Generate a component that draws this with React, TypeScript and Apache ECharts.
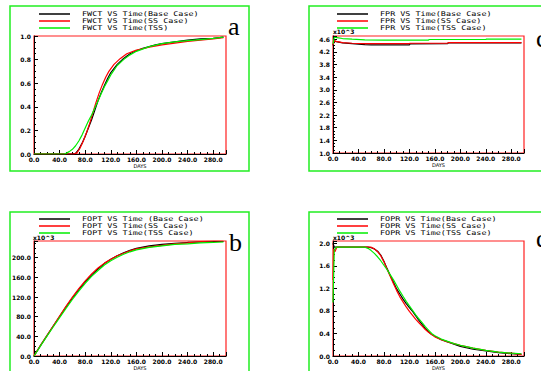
import React, { useEffect, useRef } from "react";
import * as echarts from "echarts";

type P = [number, number][];

// Panel a: FWCT vs Time
const fwctBase: P = [[0,0],[60,0],[65,0.005],[70,0.04],[75,0.09],[80,0.15],[85,0.22],[90,0.29],[95,0.37],[100,0.45],[105,0.52],[110,0.58],[115,0.64],[120,0.69],[130,0.76],[140,0.81],[150,0.85],[160,0.875],[170,0.895],[180,0.91],[190,0.925],[200,0.935],[220,0.95],[240,0.965],[260,0.975],[280,0.98],[296,0.99]];
const fwctSS: P = [[0,0],[62,0],[67,0.01],[72,0.05],[77,0.11],[82,0.18],[87,0.26],[92,0.35],[97,0.44],[102,0.52],[107,0.59],[112,0.65],[117,0.70],[125,0.76],[135,0.81],[145,0.85],[160,0.88],[180,0.905],[200,0.925],[220,0.94],[240,0.955],[260,0.965],[280,0.975],[296,0.985]];
const fwctTSS: P = [[0,0],[48,0],[55,0.02],[60,0.04],[65,0.07],[70,0.11],[75,0.16],[80,0.22],[85,0.28],[90,0.33],[95,0.39],[100,0.45],[105,0.51],[110,0.57],[115,0.62],[120,0.67],[130,0.75],[140,0.80],[150,0.84],[160,0.87],[180,0.91],[200,0.935],[220,0.95],[240,0.96],[260,0.97],[280,0.98],[296,0.99]];

// Panel c: FPR vs Time (x10^3)
const fprBase: P = [[0,4.40],[2,4.55],[5,4.52],[15,4.48],[30,4.46],[50,4.43],[60,4.42],[120,4.42],[121,4.45],[180,4.46],[181,4.48],[296,4.48]];
const fprSS: P = [[0,4.42],[2,4.56],[5,4.53],[15,4.49],[30,4.47],[50,4.46],[120,4.46],[121,4.47],[180,4.47],[181,4.49],[296,4.49]];
const fprTSS: P = [[0,4.45],[2,4.66],[6,4.65],[15,4.62],[30,4.60],[50,4.58],[80,4.57],[150,4.57],[151,4.59],[240,4.59],[241,4.60],[296,4.60]];

// Panel b: FOPT vs Time (x10^3)
const foptBase: P = [[0,0],[10,21],[20,41],[30,61],[40,80],[50,100],[60,118],[70,135],[80,151],[90,165],[100,177],[110,188],[120,197],[130,204],[140,210],[150,215],[160,219],[180,224],[200,227],[220,229],[240,231],[260,232],[280,233],[296,233]];
const foptSS: P = [[0,0],[10,21],[20,41],[30,61],[40,81],[50,101],[60,120],[70,137],[80,153],[90,167],[100,179],[110,189],[120,197],[130,204],[140,209],[150,214],[160,218],[180,222],[200,225],[220,228],[240,230],[260,233],[280,234],[296,234]];
const foptTSS: P = [[0,0],[10,20],[20,40],[30,59],[40,78],[50,97],[60,115],[70,132],[80,148],[90,162],[100,174],[110,185],[120,194],[130,201],[140,207],[150,212],[160,216],[180,221],[200,224],[220,227],[240,228],[260,230],[280,231],[296,232]];

// Panel d: FOPR vs Time (x10^3)
const foprBase: P = [[0,2.0],[2,1.93],[6,1.93],[55,1.93],[60,1.92],[65,1.90],[70,1.86],[75,1.79],[80,1.68],[85,1.55],[90,1.43],[95,1.31],[100,1.19],[105,1.10],[110,1.01],[115,0.93],[120,0.86],[125,0.79],[130,0.71],[135,0.63],[140,0.56],[145,0.49],[150,0.43],[155,0.38],[160,0.35],[170,0.29],[180,0.25],[190,0.21],[200,0.17],[220,0.12],[240,0.09],[260,0.06],[280,0.04],[296,0.03]];
const foprSS: P = [[0,1.35],[1,1.9],[3,1.85],[6,1.93],[60,1.93],[65,1.90],[70,1.85],[75,1.78],[80,1.67],[85,1.54],[90,1.41],[95,1.28],[100,1.16],[105,1.05],[110,0.96],[115,0.87],[120,0.79],[125,0.72],[130,0.65],[135,0.59],[140,0.53],[145,0.47],[150,0.42],[155,0.38],[160,0.34],[170,0.29],[180,0.25],[190,0.22],[200,0.19],[220,0.14],[240,0.10],[260,0.07],[280,0.05],[296,0.03]];
const foprTSS: P = [[0,0.95],[2,1.88],[5,1.93],[50,1.93],[55,1.91],[60,1.87],[65,1.82],[70,1.76],[75,1.69],[80,1.61],[85,1.53],[90,1.44],[95,1.35],[100,1.25],[105,1.15],[110,1.06],[115,0.97],[120,0.89],[125,0.81],[130,0.73],[135,0.66],[140,0.59],[145,0.52],[150,0.46],[155,0.40],[160,0.36],[170,0.30],[180,0.26],[190,0.22],[200,0.19],[220,0.14],[240,0.10],[260,0.07],[280,0.05],[296,0.04]];

const namesA = ["FWCT VS Time(Base Case)", "FWCT VS Time(SS Case)", "FWCT VS Time(TSS)"];
const namesC = ["FPR VS Time(Base Case)", "FPR VS Time(SS Case)", "FPR VS Time(TSS Case)"];
const namesB = ["FOPT VS Time (Base Case)", "FOPT VS Time(SS Case)", "FOPT VS Time(TSS Case)"];
const namesD = ["FOPR VS Time(Base Case)", "FOPR VS Time(SS Case)", "FOPR VS Time(TSS Case)"];

const colors = ["#000000", "#ff0000", "#00ee00"];

const fmt = (min: number, step: number, dec: number) => (v: number) => {
  const k = (v - min) / step;
  return Math.abs(k - Math.round(k)) < 1e-6 ? v.toFixed(dec) : "";
};

const tickFont = { fontSize: 6, color: "#000", fontFamily: "DejaVu Sans", fontWeight: "bold" as const };

function xAxis(gridIndex: number) {
  return {
    type: "value", gridIndex, min: 0, max: 300, interval: 40,
    axisLine: { onZero: false, lineStyle: { color: "#000", width: 1 } },
    axisTick: { inside: true, length: 4, lineStyle: { color: "#000" } },
    minorTick: { show: true, splitNumber: 4, length: 2, lineStyle: { color: "#000" } },
    axisLabel: { ...tickFont, margin: 2, formatter: fmt(0, 40, 1) },
    splitLine: { show: false }, minorSplitLine: { show: false },
    name: "DAYS", nameLocation: "middle", nameGap: 9,
    nameTextStyle: { fontSize: 5, color: "#000", fontFamily: "DejaVu Sans", padding: [0, 0, 0, 20] },
  };
}

function yAxis(gridIndex: number, min: number, max: number, step: number) {
  return {
    type: "value", gridIndex, min, max, interval: step,
    axisLine: { show: true, onZero: false, lineStyle: { color: "#000", width: 1 } },
    axisTick: { show: true, inside: true, length: 4, lineStyle: { color: "#000" } },
    minorTick: { show: true, splitNumber: 4, length: 2, lineStyle: { color: "#000" } },
    axisLabel: { ...tickFont, margin: 3, formatter: fmt(min, step, 1) },
    splitLine: { show: false }, minorSplitLine: { show: false },
  };
}

function legendGraphics(lx: number, tx: number, y0: number, names: string[]) {
  const out: any[] = [];
  names.forEach((n, i) => {
    const y = y0 + i * 7;
    out.push({ type: "line", shape: { x1: lx, y1: y, x2: lx + 31, y2: y }, style: { stroke: colors[i], lineWidth: 1.5 } });
    out.push({ type: "text", x: tx, y, scaleX: 1.3, style: { text: n, fill: "#000", font: '6.5px "DejaVu Sans Mono"', verticalAlign: "middle", align: "left" } });
  });
  return out;
}

const frame = (x: number, y: number, w: number, h: number) => ({
  type: "rect", shape: { x, y, width: w, height: h }, style: { fill: "none", stroke: "#22ee22", lineWidth: 1.5 }, z: 0,
});

const letter = (t: string, x: number, y: number) => ({
  type: "text", x, y, style: { text: t, fill: "#000", font: '26px "Liberation Serif"', verticalAlign: "middle", align: "left" },
});

const unit = (t: string, x: number, y: number) => ({
  type: "text", x, y, style: { text: t, fill: "#000", font: 'bold 6px "DejaVu Sans"', verticalAlign: "middle", align: "left" },
});

export default function App() {
  const ref = useRef<HTMLDivElement>(null);
  useEffect(() => {
    if (!ref.current) return;
    const chart = echarts.init(ref.current, undefined, { renderer: "svg" });
    const grids = [
      { left: 34, top: 36, width: 192, height: 118 },
      { left: 333, top: 36, width: 191, height: 117 },
      { left: 34, top: 241, width: 192, height: 118 },
      { left: 333, top: 241, width: 191, height: 117 },
    ].map((g) => ({ ...g, show: true, borderColor: "#ff2020", borderWidth: 1.2, backgroundColor: "transparent" }));

    const sets: [P[], string[]][] = [
      [[fwctBase, fwctSS, fwctTSS], namesA],
      [[fprBase, fprSS, fprTSS], namesC],
      [[foptBase, foptSS, foptTSS], namesB],
      [[foprBase, foprSS, foprTSS], namesD],
    ];
    const series: any[] = [];
    sets.forEach(([datas, names], gi) => {
      datas.forEach((d, i) => {
        series.push({
          type: "line", name: names[i], xAxisIndex: gi, yAxisIndex: gi, data: d,
          showSymbol: false, symbol: "none", color: colors[i],
          lineStyle: { color: colors[i], width: 1.2 }, z: 3 + i,
        });
      });
    });

    chart.setOption({
      animation: false,
      backgroundColor: "#ffffff",
      grid: grids,
      xAxis: [xAxis(0), xAxis(1), xAxis(2), xAxis(3)],
      yAxis: [yAxis(0, 0, 1, 0.2), yAxis(1, 1.0, 4.7, 0.4), yAxis(2, 0, 234, 40), yAxis(3, 0, 2.04, 0.4)],
      series,
      graphic: [
        frame(10, 6, 239, 165),
        frame(309, 6, 300, 165),
        frame(10, 212, 239, 200),
        frame(309, 212, 300, 200),
        ...legendGraphics(39, 82, 14, namesA),
        ...legendGraphics(337, 380, 14, namesC),
        ...legendGraphics(39, 82, 219, namesB),
        ...legendGraphics(337, 380, 219, namesD),
        letter("a", 228, 26),
        letter("b", 229, 242),
        letter("c", 536, 38),
        letter("d", 536, 238),
        unit("x10^3", 333, 31),
        unit("x10^3", 33, 237),
        unit("x10^3", 333, 237),
      ],
    });
    return () => chart.dispose();
  }, []);
  return <div ref={ref} style={{ position: "absolute", left: 0, top: 0, width: 541, height: 371, background: "#fff" }} />;
}
